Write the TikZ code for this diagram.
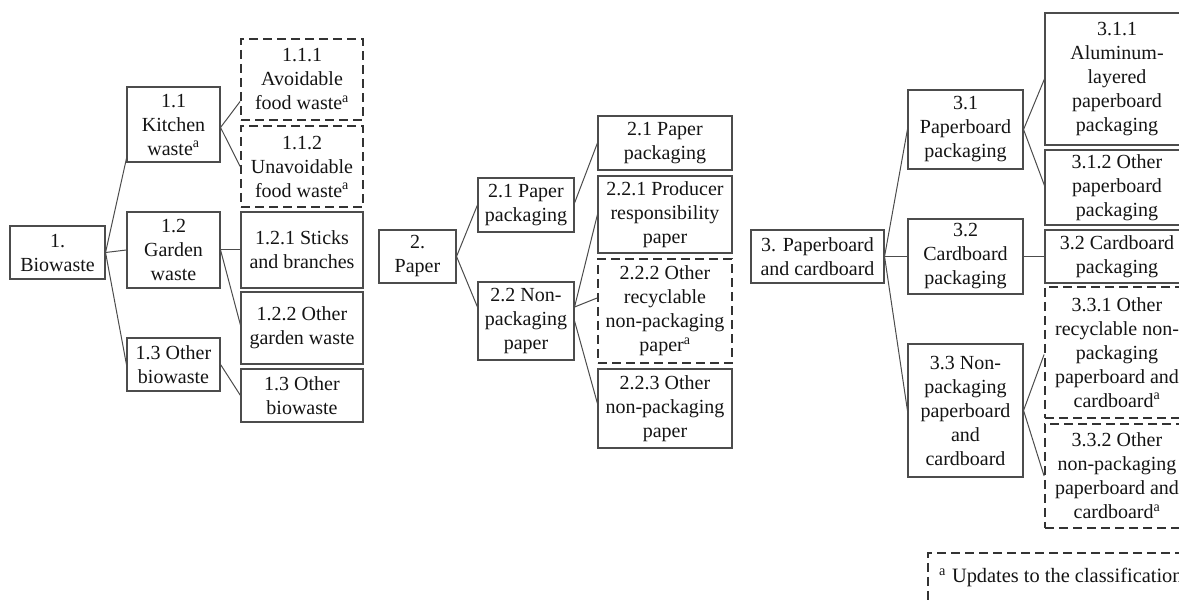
\documentclass[tikz,border=0pt]{standalone}
\usepackage{fontspec}
\setmainfont{Liberation Serif}
\usetikzlibrary{calc}
\begin{document}
\begin{tikzpicture}[x=1pt,y=-1pt,
  bx/.style={draw=black!70, line width=1.1pt, align=center, inner sep=0pt,
    font=\fontsize{20}{24}\selectfont, text=black!92},
  dbx/.style={bx, draw=black!80, line width=1.8pt, dash pattern=on 9pt off 5pt},
  ln/.style={draw=black!70, line width=1pt}]
\useasboundingbox (0,0) rectangle (1179,601);
\clip (0,0) rectangle (1179,601);
% ---------- 1. Biowaste ----------
\node[bx, minimum width=95pt, minimum height=53pt] (n1) at (57.5,252.5) {1.\\Biowaste};
\node[bx, minimum width=93pt, minimum height=75pt] (n11) at (173.5,124.5) {1.1\\Kitchen\\waste\textsuperscript{a}};
\node[bx, minimum width=93pt, minimum height=76pt] (n12) at (173.5,250) {1.2\\Garden\\waste};
\node[bx, minimum width=93pt, minimum height=53pt] (n13) at (173.5,364.5) {1.3 Other\\biowaste};
\node[dbx, minimum width=122pt, minimum height=81pt] (n111) at (302,79.5) {1.1.1\\Avoidable\\food waste\textsuperscript{a}};
\node[dbx, minimum width=122pt, minimum height=81pt] (n112) at (302,166.5) {1.1.2\\Unavoidable\\food waste\textsuperscript{a}};
\node[bx, minimum width=122pt, minimum height=76pt] (n121) at (302,250) {1.2.1 Sticks\\and branches};
\node[bx, minimum width=122pt, minimum height=72pt] (n122) at (302,328) {1.2.2 Other\\garden waste};
\node[bx, minimum width=122pt, minimum height=53pt] (n13r) at (302,395.5) {1.3 Other\\biowaste};
% ---------- 2. Paper ----------
\node[bx, minimum width=77pt, minimum height=53pt] (n2) at (417.5,256.5) {2.\\Paper};
\node[bx, minimum width=96pt, minimum height=54pt] (n21) at (526,205) {2.1 Paper\\packaging};
\node[bx, minimum width=96pt, minimum height=78pt] (n22) at (526,321) {2.2 Non-\\packaging\\paper};
\node[bx, minimum width=134pt, minimum height=54pt] (n21r) at (665,143) {2.1 Paper\\packaging};
\node[bx, minimum width=134pt, minimum height=77pt] (n221) at (665,214.5) {2.2.1 Producer\\responsibility\\paper};
\node[dbx, minimum width=134pt, minimum height=104pt] (n222) at (665,311) {2.2.2 Other\\recyclable\\non-packaging\\paper\textsuperscript{a}};
\node[bx, minimum width=134pt, minimum height=79pt] (n223) at (665,408.5) {2.2.3 Other\\non-packaging\\paper};
% ---------- 3. Paperboard and cardboard ----------
\node[bx, minimum width=133pt, minimum height=53pt] (n3) at (817.5,256.5) {3. Paperboard\\and cardboard};
\node[bx, minimum width=115pt, minimum height=79pt] (n31) at (965.5,129.5) {3.1\\Paperboard\\packaging};
\node[bx, minimum width=115pt, minimum height=75pt] (n32) at (965.5,256.5) {3.2\\Cardboard\\packaging};
\node[bx, minimum width=115pt, minimum height=133pt] (n33) at (965.5,410.5) {3.3 Non-\\packaging\\paperboard\\and\\cardboard};
\node[bx, minimum width=144pt, minimum height=132pt] (n311) at (1117,79) {3.1.1\\Aluminum-\\layered\\paperboard\\packaging};
\node[bx, minimum width=144pt, minimum height=75pt] (n312) at (1117,187.5) {3.1.2 Other\\paperboard\\packaging};
\node[bx, minimum width=144pt, minimum height=53pt] (n32r) at (1117,256.5) {3.2 Cardboard\\packaging};
\node[dbx, minimum width=144pt, minimum height=131pt] (n331) at (1117,352.5) {3.3.1 Other\\recyclable non-\\packaging\\paperboard and\\cardboard\textsuperscript{a}};
\node[dbx, minimum width=144pt, minimum height=104pt] (n332) at (1117,476) {3.3.2 Other\\non-packaging\\paperboard and\\cardboard\textsuperscript{a}};
% ---------- note ----------
\node[dbx, anchor=north west, minimum width=400pt, minimum height=100pt] (note) at (927,552) {};
\node[anchor=base west, inner sep=0pt, font=\fontsize{20.4}{24}\selectfont, text=black!92] (notetxt) at (939,583) {\textsuperscript{a}\hspace{6pt}Updates to the classification};
% ---------- connectors ----------
\draw[ln] (n1.east) -- ($(n11.south west)+(0,-4)$);
\draw[ln] (n1.east) -- (n12.west);
\draw[ln] (n1.east) -- (n13.west);
\draw[ln] ($(n11.east)+(0,3)$) -- ($(n111.west)+(0,22)$);
\draw[ln] ($(n11.east)+(0,3)$) -- (n112.west);
\draw[ln] (n12.east) -- (n121.west);
\draw[ln] (n12.east) -- ($(n122.west)+(0,-3)$);
\draw[ln] (n13.east) -- (n13r.west);
\draw[ln] (n2.east) -- (n21.west);
\draw[ln] (n2.east) -- ($(n22.west)+(0,-14)$);
\draw[ln] ($(n21.east)+(0,-2)$) -- (n21r.west);
\draw[ln] ($(n22.east)+(0,-14)$) -- (n221.west);
\draw[ln] ($(n22.east)+(0,-14)$) -- ($(n222.west)+(0,-13)$);
\draw[ln] (n22.east) -- ($(n223.west)+(0,-5)$);
\draw[ln] (n3.east) -- (n31.west);
\draw[ln] (n3.east) -- (n32.west);
\draw[ln] (n3.east) -- (n33.west);
\draw[ln] (n31.east) -- (n311.west);
\draw[ln] (n31.east) -- ($(n312.west)+(0,-2)$);
\draw[ln] (n32.east) -- (n32r.west);
\draw[ln] (n33.east) -- ($(n331.west)+(0,2)$);
\draw[ln] (n33.east) -- (n332.west);
\end{tikzpicture}
\end{document}
